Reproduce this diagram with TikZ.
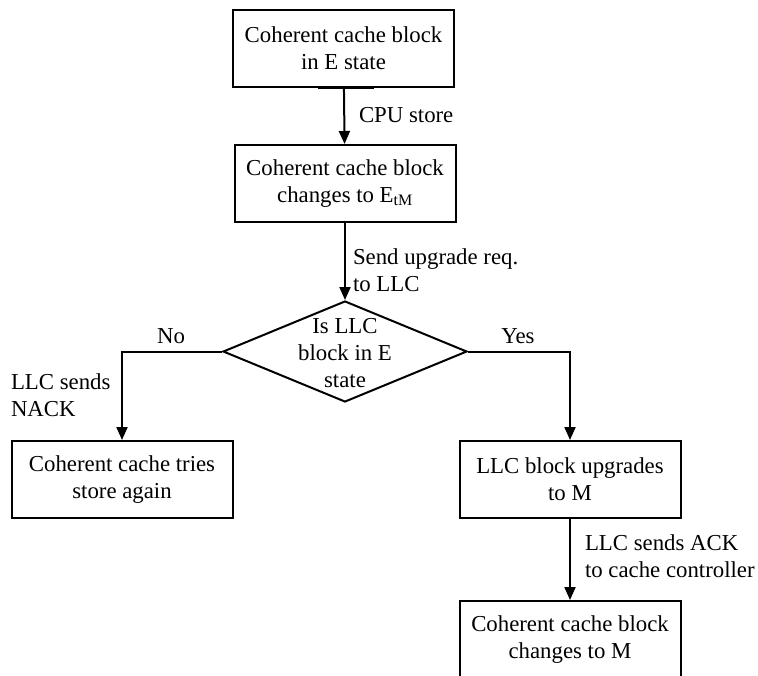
\documentclass[tikz,border=0pt]{standalone}
\usepackage{fontspec}
\setmainfont{Liberation Serif}
\usetikzlibrary{arrows.meta,shapes.geometric}
\begin{document}
\begin{tikzpicture}[x=1pt,y=-1pt,font=\fontsize{22.8}{27}\selectfont,line width=2pt,
  line join=miter,>={Triangle[length=13pt,width=11pt]},
  block/.style={draw,rectangle,align=center,minimum width=221pt,minimum height=77pt,inner sep=0pt},
  lbl/.style={align=left,anchor=west,inner sep=0pt}]
\useasboundingbox (0,0) rectangle (758,675);
\node[block] (e_state) at (343.5,48) {Coherent cache block\\in E state};
\node[block] (etm) at (345,183.5) {Coherent cache block\\changes to E\textsubscript{tM}};
\node[draw,diamond,minimum width=244pt,minimum height=101pt,inner sep=0pt] (llc_e) at (345,351.5) {};
\node[align=center,inner sep=0pt] (llc_q) at (345,353) {Is LLC\\block in E\\state};
\node[block] (retry) at (122,479.5) {Coherent cache tries\\store again};
\node[block] (upgrade) at (570,479.5) {LLC block upgrades\\to M};
\node[block] (done) at (570,639.5) {Coherent cache block\\changes to M};
\draw[line width=3.5pt] ([xshift=-26pt]e_state.south) -- ([xshift=30pt]e_state.south);
\draw[->] (e_state) -- (etm);
\draw[->] (etm) -- (llc_e);
\draw[->] (llc_e.west) -| (retry.north);
\draw[->] (llc_e.east) -| (upgrade.north);
\draw[->] (upgrade) -- (done);
\node[lbl] (cpu) at (358,115) {CPU store};
\node[lbl] (upreq) at (352,270) {Send upgrade req.\\to LLC};
\node (no) at (171,336) {No};
\node (yes) at (518,336) {Yes};
\node[lbl] (nack) at (10,395) {LLC sends\\NACK};
\node[lbl] (ack) at (584,556) {LLC sends ACK\\to cache controller};
\end{tikzpicture}
\end{document}
